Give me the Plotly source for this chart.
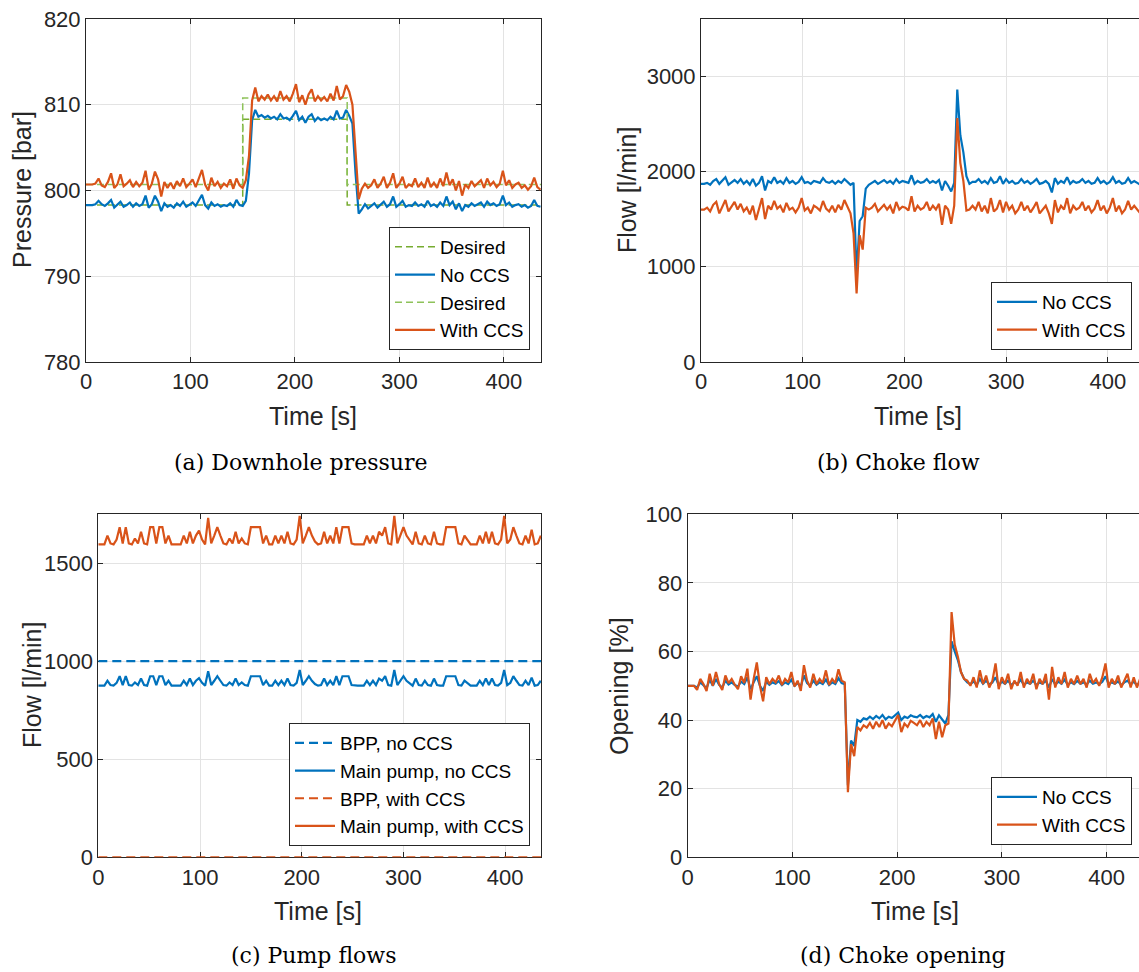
import plotly.graph_objects as go

# ---------------------------------------------------------------------------
# Sampled simulation results (3 s sample interval, t = 0 ... 435 s)
# ---------------------------------------------------------------------------
TIME = list(range(0, 436, 3))

# Downhole pressure [bar]
PRESSURE_NO_CCS = [
    798.3, 798.3, 798.3, 798.4, 798.8, 798.4, 798.2, 798.5, 798.9, 798.0,
    798.3, 798.7, 798.1, 798.3, 798.6, 798.1, 798.5, 798.2, 798.4, 799.4,
    798.0, 798.4, 799.4, 798.7, 797.6, 798.5, 798.1, 798.3, 798.0, 798.5,
    798.2, 798.7, 798.1, 798.4, 798.6, 798.2, 798.8, 799.5, 798.3, 797.9,
    798.6, 798.2, 798.4, 798.1, 798.3, 798.2, 798.5, 798.1, 798.9, 798.3,
    798.2, 798.8, 802.0, 808.2, 809.4, 808.6, 808.8, 808.5, 808.7, 808.4,
    808.6, 808.3, 808.9, 808.4, 808.5, 808.2, 808.7, 809.3, 808.2, 808.6,
    807.9, 808.6, 808.9, 808.1, 808.5, 808.2, 808.4, 808.2, 808.6, 808.3,
    809.3, 808.4, 808.5, 809.4, 808.7, 807.8, 802.0, 797.3, 797.8, 798.4,
    797.9, 798.2, 798.5, 798.0, 798.3, 798.7, 798.1, 798.4, 799.3, 798.1,
    798.4, 798.8, 798.1, 798.3, 798.2, 798.6, 798.2, 798.4, 798.1, 798.8,
    798.2, 798.4, 798.1, 798.6, 798.2, 799.3, 798.3, 798.7, 797.8, 798.5,
    797.6, 798.3, 798.1, 798.5, 798.2, 798.4, 798.6, 798.1, 798.7, 798.3,
    798.5, 798.2, 798.4, 799.4, 798.3, 798.6, 798.1, 798.3, 798.4, 798.1,
    798.3, 798.0, 798.2, 798.9, 798.2, 798.1,
]
PRESSURE_WITH_CCS = [
    800.7, 800.7, 800.7, 800.8, 801.4, 800.6, 800.4, 801.0, 802.0, 800.3,
    800.7, 801.9, 800.5, 800.8, 801.2, 800.4, 801.0, 800.5, 800.9, 802.3,
    800.1, 800.8, 802.2, 801.3, 799.3, 801.0, 800.3, 800.9, 800.2, 801.1,
    800.5, 801.4, 800.4, 800.8, 801.3, 800.4, 801.5, 802.4, 800.7, 800.0,
    801.5, 800.5, 801.0, 800.3, 800.8, 800.5, 801.3, 800.2, 801.4, 800.6,
    800.3, 801.2, 804.0, 810.5, 812.0, 810.4, 811.0, 810.6, 811.2, 810.5,
    811.0, 810.4, 811.6, 810.6, 811.0, 810.4, 811.3, 812.4, 810.3, 811.1,
    810.0, 811.2, 811.8, 810.4, 811.0, 810.5, 810.9, 810.4, 811.3, 810.5,
    812.2, 810.6, 811.0, 812.3, 811.5, 810.0, 804.5, 799.0, 800.2, 800.8,
    800.3, 800.6, 801.3, 800.3, 800.8, 801.6, 800.3, 800.9, 802.0, 800.3,
    800.8, 801.6, 800.3, 800.7, 800.5, 801.4, 800.4, 800.9, 800.3, 801.5,
    800.4, 800.9, 800.3, 801.4, 800.5, 802.1, 800.6, 801.3, 800.0, 801.1,
    799.4, 800.7, 800.3, 801.1, 800.5, 800.8, 801.2, 800.3, 801.4, 800.6,
    801.0, 800.4, 800.8, 802.3, 800.6, 801.2, 800.3, 800.7, 800.9, 800.3,
    800.6, 800.1, 800.5, 801.5, 800.4, 800.1,
]

# Pressure set-points (step changes)
DESIRED_T = [0, 150, 250, 436]
DESIRED_NO_CCS = [798.3, 808.3, 798.3, 798.3]
DESIRED_WITH_CCS = [800.7, 810.8, 800.7, 800.7]

# Choke flow [l/min]
CHOKE_FLOW_NO_CCS = [
    1870, 1870, 1880, 1860, 1900, 1920, 1870, 1900, 1940, 1860,
    1890, 1910, 1880, 1920, 1870, 1900, 1860, 1920, 1850, 1880,
    1950, 1800, 1900, 1880, 1940, 1880, 1900, 1870, 1930, 1880,
    1900, 1870, 1890, 1940, 1880, 1890, 1870, 1900, 1890, 1880,
    1930, 1890, 1880, 1900, 1870, 1900, 1880, 1920, 1890, 1860,
    1880, 900, 1480, 1530, 1820, 1860, 1880, 1900, 1870, 1890,
    1910, 1880, 1900, 1870, 1920, 1880, 1900, 1890, 1880, 1960,
    1870, 1900, 1880, 1890, 1920, 1880, 1900, 1880, 1910, 1800,
    1900, 1850, 1790, 1880, 2860, 2380, 2200, 1950, 1870, 1890,
    1890, 1920, 1880, 1900, 1870, 1930, 1880, 1890, 1950, 1870,
    1920, 1880, 1900, 1870, 1880, 1920, 1880, 1900, 1870, 1890,
    1920, 1870, 1880, 1900, 1870, 1780, 1930, 1870, 1900, 1880,
    1940, 1870, 1900, 1880, 1890, 1920, 1880, 1900, 1870, 1880,
    1930, 1880, 1900, 1870, 1890, 1940, 1880, 1900, 1870, 1880,
    1930, 1880, 1900, 1880, 1860, 1880,
]
CHOKE_FLOW_WITH_CCS = [
    1600, 1600, 1620, 1580, 1650, 1680, 1560, 1640, 1700, 1580,
    1630, 1680, 1600, 1660, 1580, 1620, 1550, 1640, 1490, 1620,
    1720, 1500, 1640, 1600, 1690, 1610, 1640, 1570, 1670, 1600,
    1620, 1570, 1620, 1720, 1590, 1620, 1560, 1640, 1620, 1590,
    1690, 1610, 1580, 1640, 1570, 1650, 1600, 1700, 1620, 1560,
    1350, 720, 1330, 1180, 1620, 1600, 1620, 1660, 1580, 1610,
    1650, 1600, 1640, 1560, 1680, 1600, 1630, 1620, 1590, 1740,
    1580, 1640, 1600, 1620, 1680, 1590, 1640, 1600, 1660, 1440,
    1640, 1600, 1450, 1640, 2560, 2090, 1900, 1590, 1600, 1640,
    1600, 1680, 1580, 1640, 1560, 1720, 1580, 1610, 1700, 1570,
    1680, 1600, 1640, 1560, 1600, 1680, 1590, 1640, 1570, 1620,
    1680, 1560, 1600, 1640, 1560, 1450, 1700, 1570, 1640, 1600,
    1720, 1560, 1640, 1600, 1620, 1680, 1590, 1640, 1570, 1610,
    1700, 1590, 1640, 1560, 1620, 1720, 1580, 1640, 1560, 1600,
    1690, 1600, 1640, 1600, 1560, 1620,
]

# Pump flows [l/min]
BPP_T = [0, 436]
BPP_NO_CCS = [1000, 1000]
BPP_WITH_CCS = [0, 0]
MAIN_PUMP_NO_CCS = [
    875, 875, 875, 900, 878, 875, 889, 923, 878, 923,
    878, 875, 891, 878, 911, 878, 875, 923, 923, 878,
    923, 923, 878, 900, 875, 875, 875, 875, 900, 878,
    911, 878, 900, 913, 889, 875, 949, 878, 900, 923,
    900, 878, 875, 891, 878, 911, 878, 891, 878, 875,
    923, 923, 923, 923, 878, 900, 875, 875, 900, 878,
    900, 878, 911, 878, 875, 889, 955, 878, 900, 923,
    900, 883, 875, 878, 911, 878, 900, 878, 923, 878,
    923, 923, 923, 878, 875, 875, 875, 875, 900, 878,
    900, 878, 911, 900, 923, 878, 875, 955, 878, 900,
    923, 900, 889, 875, 911, 878, 875, 900, 878, 875,
    911, 878, 875, 875, 923, 923, 923, 923, 878, 875,
    900, 889, 875, 875, 875, 900, 878, 911, 878, 911,
    878, 875, 889, 955, 878, 889, 923, 900, 878, 875,
    900, 878, 916, 875, 878, 900,
]
MAIN_PUMP_WITH_CCS = [
    1595, 1595, 1595, 1640, 1600, 1595, 1620, 1683, 1600, 1683,
    1600, 1595, 1625, 1600, 1660, 1600, 1595, 1683, 1683, 1600,
    1683, 1683, 1600, 1640, 1595, 1595, 1595, 1595, 1640, 1600,
    1660, 1600, 1640, 1665, 1620, 1595, 1730, 1600, 1640, 1683,
    1640, 1600, 1595, 1625, 1600, 1660, 1600, 1625, 1600, 1595,
    1683, 1683, 1683, 1683, 1600, 1640, 1595, 1595, 1640, 1600,
    1640, 1600, 1660, 1600, 1595, 1620, 1740, 1600, 1640, 1683,
    1640, 1610, 1595, 1600, 1660, 1600, 1640, 1600, 1683, 1600,
    1683, 1683, 1683, 1600, 1595, 1595, 1595, 1595, 1640, 1600,
    1640, 1600, 1660, 1640, 1683, 1600, 1595, 1740, 1600, 1640,
    1683, 1640, 1620, 1595, 1660, 1600, 1595, 1640, 1600, 1595,
    1660, 1600, 1595, 1595, 1683, 1683, 1683, 1683, 1600, 1595,
    1640, 1620, 1595, 1595, 1595, 1640, 1600, 1660, 1600, 1660,
    1600, 1595, 1620, 1740, 1600, 1620, 1683, 1640, 1600, 1595,
    1640, 1600, 1670, 1595, 1600, 1640,
]

# Choke opening [%]
OPENING_NO_CCS = [
    50.0, 50.0, 50.0, 49.5, 51.0, 50.2, 49.3, 51.8, 50.0, 52.0,
    50.3, 49.5, 51.5, 50.4, 51.0, 50.2, 49.8, 51.2, 50.5, 52.5,
    49.0, 51.0, 52.8, 50.0, 48.5, 51.2, 50.3, 51.0, 50.6, 51.4,
    50.2, 51.0, 50.5, 51.8, 50.0, 50.8, 49.8, 53.0, 50.8, 50.0,
    51.5, 50.3, 51.0, 50.5, 51.8, 50.2, 51.0, 50.5, 52.2, 50.8,
    50.5, 21.0, 34.0, 32.5, 40.0, 39.5, 40.5, 40.2, 41.0, 40.3,
    41.2, 40.5, 41.5, 40.2, 41.0, 40.6, 41.3, 42.2, 40.0, 41.0,
    40.6, 41.4, 41.0, 40.8, 41.5, 40.6, 41.2, 40.8, 41.8, 39.5,
    41.4, 40.2, 39.0, 41.5, 63.0, 60.0, 57.5, 54.0, 52.0, 51.0,
    50.5, 51.3, 50.2, 52.0, 50.6, 51.5, 50.4, 51.0, 52.5, 50.2,
    51.2, 50.6, 51.5, 50.2, 51.0, 50.5, 51.8, 50.3, 51.0, 50.6,
    51.5, 50.2, 51.0, 50.6, 51.5, 49.5, 52.0, 50.4, 51.2, 50.6,
    51.8, 50.3, 51.0, 50.5, 51.4, 50.6, 51.0, 50.4, 51.5, 50.6,
    51.0, 50.5, 51.2, 52.8, 50.5, 51.0, 50.6, 51.3, 50.2, 51.0,
    51.5, 50.4, 51.2, 50.2, 51.0, 50.0,
]
OPENING_WITH_CCS = [
    50.0, 50.0, 50.0, 48.8, 52.0, 50.5, 48.5, 53.5, 50.0, 54.0,
    50.5, 48.8, 53.0, 50.8, 52.0, 50.3, 49.0, 52.8, 50.8, 55.0,
    46.0, 52.0, 56.8, 50.0, 45.5, 52.5, 50.5, 52.0, 51.0, 53.0,
    50.2, 52.0, 51.0, 54.0, 49.8, 51.5, 48.5, 56.0, 51.5, 49.5,
    53.5, 50.5, 52.0, 50.8, 54.5, 50.2, 52.0, 50.8, 54.8, 51.5,
    51.0, 19.0, 33.0, 29.5, 38.0, 37.0, 38.5, 37.8, 39.2, 37.5,
    39.5, 38.0, 40.0, 37.5, 39.0, 38.2, 39.8, 41.5, 36.5, 39.0,
    38.0, 39.8, 39.2, 38.5, 40.0, 38.0, 39.5, 38.5, 40.5, 34.5,
    39.5, 35.0, 38.5, 39.0, 71.5, 62.0, 58.5, 54.0, 52.0, 51.5,
    50.0, 52.5, 49.5, 54.5, 50.5, 53.0, 49.5, 51.5, 56.5, 49.0,
    52.5, 50.5, 53.5, 49.0, 51.5, 50.0, 54.0, 49.5, 52.0, 50.5,
    53.5, 49.0, 52.0, 50.5, 53.5, 46.0, 55.5, 49.5, 52.5, 50.5,
    54.0, 49.5, 52.0, 50.5, 53.0, 50.5, 52.0, 49.5, 53.5, 50.8,
    52.0, 50.0, 52.5, 56.5, 49.5, 52.0, 50.5, 53.0, 49.5, 51.5,
    53.5, 49.5, 52.5, 49.5, 52.0, 50.5,
]

# ---------------------------------------------------------------------------
# Styling
# ---------------------------------------------------------------------------
W, H = 1139, 972
BLUE = "#0072BD"
ORANGE = "#D95319"
GREEN = "#77AC30"
GREEN_LIGHT = "#8EC25A"
AX_COLOR = "#262626"
GRID = "#e3e3e3"
SANS = "Liberation Sans, Arial, sans-serif"
SERIF = "DejaVu Serif, serif"
LW = 2.2


def fx(px):
    return px / W


def fy(py):
    return 1 - py / H


fig = go.Figure()


def add_line(x, y, name, color, xa, ya, legend, dash=None, width=LW, shape="linear"):
    fig.add_trace(go.Scatter(
        x=x, y=y, name=name, mode="lines",
        line=dict(color=color, width=width, dash=dash, shape=shape),
        xaxis=xa, yaxis=ya, legend=legend,
    ))


DES_DASH = "7px,4px"
BPP_DASH = "9px,5px"

# (a) Downhole pressure
add_line(DESIRED_T, DESIRED_NO_CCS, "Desired", GREEN, "x", "y", "legend", DES_DASH, 1.5, "hv")
add_line(TIME, PRESSURE_NO_CCS, "No CCS", BLUE, "x", "y", "legend")
add_line(DESIRED_T, DESIRED_WITH_CCS, "Desired", GREEN_LIGHT, "x", "y", "legend", DES_DASH, 1.5, "hv")
add_line(TIME, PRESSURE_WITH_CCS, "With CCS", ORANGE, "x", "y", "legend")

# (b) Choke flow
add_line(TIME, CHOKE_FLOW_NO_CCS, "No CCS", BLUE, "x2", "y2", "legend2")
add_line(TIME, CHOKE_FLOW_WITH_CCS, "With CCS", ORANGE, "x2", "y2", "legend2")

# (c) Pump flows
add_line(BPP_T, BPP_NO_CCS, "BPP, no CCS", BLUE, "x3", "y3", "legend3", BPP_DASH)
add_line(TIME, MAIN_PUMP_NO_CCS, "Main pump, no CCS", BLUE, "x3", "y3", "legend3")
add_line(BPP_T, BPP_WITH_CCS, "BPP, with CCS", ORANGE, "x3", "y3", "legend3", BPP_DASH)
add_line(TIME, MAIN_PUMP_WITH_CCS, "Main pump, with CCS", ORANGE, "x3", "y3", "legend3")

# (d) Choke opening
add_line(TIME, OPENING_NO_CCS, "No CCS", BLUE, "x4", "y4", "legend4")
add_line(TIME, OPENING_WITH_CCS, "With CCS", ORANGE, "x4", "y4", "legend4")


def axis(domain, rng, dtick, anchor, mirror="ticks"):
    return dict(
        domain=domain, range=rng, dtick=dtick, tick0=0, anchor=anchor,
        showline=True, linecolor=AX_COLOR, linewidth=1, mirror=mirror,
        ticks="inside", ticklen=5, tickcolor=AX_COLOR, tickwidth=1,
        showgrid=True, gridcolor=GRID, gridwidth=1, zeroline=False,
        tickfont=dict(family=SANS, size=22, color=AX_COLOR),
        layer="below traces", fixedrange=True, automargin=False,
    )


panels = {
    # name: (left, right, top, bottom) in pixels
    "a": (86, 541, 19, 362),
    "b": (701, 1139, 19, 362),
    "c": (98.3, 541.3, 514, 857.3),
    "d": (687.7, 1139, 514.3, 857.3),
}


def xd(p):
    return [fx(panels[p][0]), fx(panels[p][1])]


def yd(p):
    return [fy(panels[p][3]), fy(panels[p][2])]


layout = dict(
    template="none",
    width=W, height=H,
    margin=dict(l=0, r=0, t=0, b=0, pad=0),
    paper_bgcolor="white", plot_bgcolor="white",
    font=dict(family=SANS, color=AX_COLOR),
    xaxis=axis(xd("a"), [0, 435.5], 100, "y"),
    yaxis=axis(yd("a"), [780, 820], 10, "x"),
    xaxis2=axis(xd("b"), [0, 430.7], 100, "y2"),
    yaxis2=axis(yd("b"), [0, 3600], 1000, "x2", mirror=False),
    xaxis3=axis(xd("c"), [0, 435.5], 100, "y3"),
    yaxis3=axis(yd("c"), [0, 1750], 500, "x3"),
    xaxis4=axis(xd("d"), [0, 431], 100, "y4"),
    yaxis4=axis(yd("d"), [0, 100], 20, "x4", mirror=False),
)


def legend(right, bottom):
    return dict(
        x=fx(right), y=fy(bottom), xanchor="right", yanchor="bottom",
        bgcolor="white", bordercolor=AX_COLOR, borderwidth=1,
        font=dict(family=SANS, size=19, color="black"),
        itemwidth=40, tracegroupgap=0, traceorder="normal",
    )


layout["legend"] = legend(530, 350)
layout["legend2"] = legend(1132, 350)
layout["legend3"] = legend(530, 846)
layout["legend4"] = legend(1132, 845)

annotations = []


def label(text, x, y, size, angle=0, family=SANS, color=AX_COLOR):
    annotations.append(dict(
        text=text, x=fx(x), y=fy(y), xref="paper", yref="paper",
        showarrow=False, textangle=angle, xanchor="center", yanchor="middle",
        font=dict(family=family, size=size, color=color),
    ))


# axis titles
label("Time [s]", 313, 416, 25)
label("Time [s]", 918, 416, 25)
label("Time [s]", 318, 911, 25)
label("Time [s]", 915, 911, 25)
label("Pressure [bar]", 22, 190, 25, -90)
label("Flow [l/min]", 627, 190, 25, -90)
label("Flow [l/min]", 32, 685, 25, -90)
label("Opening [%]", 619, 686, 25, -90)

# sub-figure captions
label("(a) Downhole pressure", 301, 462, 22, family=SERIF, color="black")
label("(b) Choke flow", 898, 462, 22, family=SERIF, color="black")
label("(c) Pump flows", 313, 955, 22, family=SERIF, color="black")
label("(d) Choke opening", 903, 955, 22, family=SERIF, color="black")

layout["annotations"] = annotations
fig.update_layout(**layout)

fig.write_html("out.html")
